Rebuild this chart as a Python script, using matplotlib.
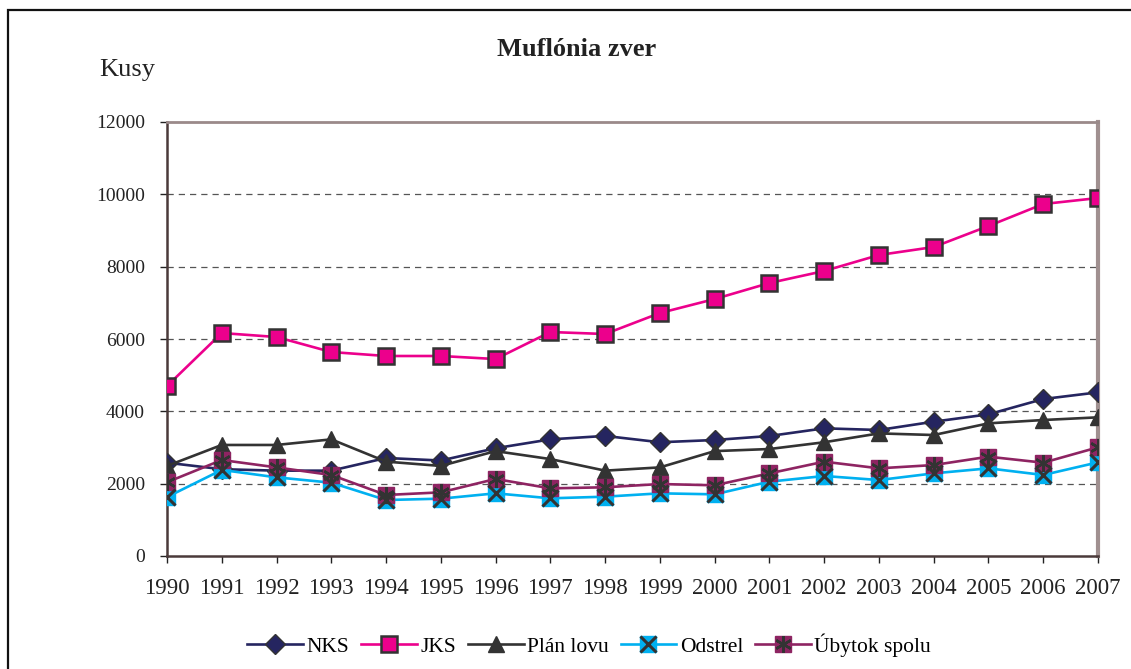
import matplotlib
matplotlib.use("Agg")
import matplotlib.pyplot as plt
from matplotlib.patches import Rectangle
from matplotlib.legend_handler import HandlerTuple

years = list(range(1990, 2008))
nks = [2580, 2400, 2360, 2360, 2710, 2640, 2980, 3225, 3320, 3145, 3207, 3318, 3530, 3484, 3714, 3917, 4340, 4525]
jks = [4700, 6165, 6055, 5640, 5530, 5530, 5446, 6193, 6138, 6718, 7105, 7548, 7880, 8322, 8543, 9124, 9732, 9898]
plan = [2490, 3070, 3070, 3225, 2610, 2490, 2900, 2680, 2360, 2450, 2900, 2958, 3145, 3390, 3345, 3668, 3760, 3834]
odstrel = [1630, 2380, 2175, 2027, 1548, 1585, 1733, 1595, 1640, 1733, 1705, 2055, 2212, 2100, 2285, 2424, 2240, 2590]
ubytok = [2040, 2654, 2450, 2240, 1687, 1760, 2130, 1870, 1900, 1990, 1955, 2285, 2608, 2424, 2515, 2746, 2580, 3005]
yticks = [0, 2000, 4000, 6000, 8000, 10000, 12000]

plt.rcParams['font.family'] = ['Liberation Serif', 'DejaVu Serif']

W, H = 1131, 669
fig = plt.figure(figsize=(W / 100, H / 100), dpi=100)
ax = fig.add_axes([167 / W, 1 - 556 / H, (1098 - 167) / W, (556 - 122) / H])

edge = '#333333'
lw = 1.9

h_nks = ax.plot(years, nks, color='#252560', lw=lw, marker='D', ms=10,
                mfc='#252560', mec=edge, mew=1.0, zorder=3)[0]
h_jks = ax.plot(years, jks, color='#ec008c', lw=lw, marker='s', ms=11,
                mfc='#ec008c', mec=edge, mew=1.8, zorder=3)[0]
h_plan = ax.plot(years, plan, color='#333333', lw=lw, marker='^', ms=11,
                 mfc='#333333', mec='#333333', zorder=3)[0]
h_od1 = ax.plot(years, odstrel, color='#00b0f0', lw=lw, marker='s', ms=11,
                mfc='#00b0f0', mec='#00b0f0', zorder=4)[0]
h_od2 = ax.plot(years, odstrel, ls='none', marker='x', ms=11,
                mec='#333333', mew=2.2, zorder=5)[0]
h_ub1 = ax.plot(years, ubytok, color='#8e2462', lw=lw, marker='s', ms=11,
                mfc='#8e2462', mec='#8e2462', zorder=4)[0]
h_ub2 = ax.plot(years, ubytok, ls='none', marker=(6, 2, 0), ms=12,
                mec='#333333', mew=1.8, zorder=5)[0]

ax.set_xlim(1990, 2007)
ax.set_ylim(0, 12000)
ax.set_yticks(yticks)
ax.set_xticks(years)
ax.tick_params(axis='both', colors='#222222', direction='out', length=5, width=1)
ax.tick_params(axis='x', labelsize=16.5, pad=11)
ax.tick_params(axis='y', labelsize=14, pad=11)
for t in [2000, 4000, 6000, 8000, 10000]:
    ax.axhline(t, color='#555555', lw=0.9, ls=(0, (5, 4)), zorder=1)

ax.spines['left'].set_color('#4a3a3a')
ax.spines['left'].set_linewidth(1.8)
ax.spines['bottom'].set_color('#4a3a3a')
ax.spines['bottom'].set_linewidth(1.8)
ax.spines['top'].set_color('#9a8a8a')
ax.spines['top'].set_linewidth(2)
ax.spines['right'].set_color('#a09090')
ax.spines['right'].set_linewidth(3)

fig.text(577 / W, 1 - 49 / H, 'Muflónia zver', ha='center', va='center',
         fontsize=19, fontweight='bold', color='#222222')
fig.text(127 / W, 1 - 70 / H, 'Kusy', ha='center', va='center',
         fontsize=19, color='#222222')

fig.patches.append(Rectangle((8 / W, -0.2), 1.2, 1.2 - 10 / H, transform=fig.transFigure,
                             fill=False, ec='#111111', lw=1.6, clip_on=False))

leg = fig.legend([h_nks, h_jks, h_plan, (h_od1, h_od2), (h_ub1, h_ub2)],
                 ['NKS', 'JKS', 'Plán lovu', 'Odstrel', 'Úbytok spolu'],
                 handler_map={tuple: HandlerTuple(ndivide=1, pad=0)},
                 loc='center', bbox_to_anchor=(589 / W, 1 - 645 / H), ncol=5,
                 frameon=False, fontsize=15.5, handlelength=2.6, handletextpad=0.15,
                 columnspacing=0.55)

fig.savefig('out.png', dpi=100)
